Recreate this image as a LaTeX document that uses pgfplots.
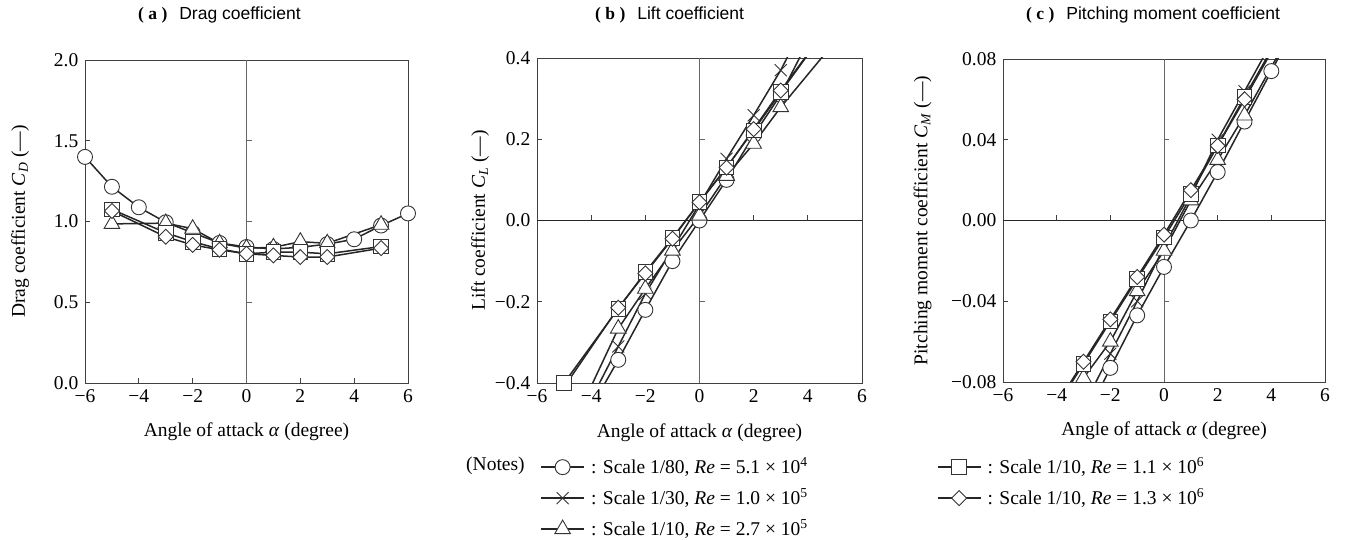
\documentclass[border=0pt]{standalone}
\usepackage{fontspec}
\setmainfont{Liberation Serif}
\newfontfamily\titlesans{Liberation Sans}
\usepackage{pgfplots}
\pgfplotsset{compat=1.18}
\begin{document}
\fontsize{19.5}{23}\selectfont
\begin{tikzpicture}
\useasboundingbox (0pt,0pt) rectangle (1348pt,540pt);
\pgfplotsset{
 panel/.style={
  scale only axis, anchor=south west, width=323pt, height=323pt,
  xmin=-6, xmax=6, xtick={-6,-4,-2,0,2,4,6}, xticklabels={−6,−4,−2,0,2,4,6},
  scaled y ticks=false, scaled x ticks=false,
  tick align=inside, xtick pos=bottom, ytick pos=left,
  major tick length=5pt,
  axis line style={black!75, line width=0.8pt},
  tick style={black!75, line width=0.8pt},
  tick label style={font=\fontsize{19.5}{23}\selectfont},
  label style={font=\fontsize{19.5}{23}\selectfont},
  xlabel={Angle of attack \textit{α} (degree)},
  xlabel style={at={(axis description cs:0.5,-0.152)}, anchor=center},
 },
 ser/.style={line width=1.5pt, black!85, mark options={fill=white, draw=black!80, line width=0.9pt, solid}},
 sCirc/.style={ser, mark=*, mark size=7.5pt},
 sCross/.style={ser, mark=x, mark size=8.5pt},
 sTri/.style={ser, mark=triangle*, mark size=9pt},
 sSq/.style={ser, mark=square*, mark size=7.3pt},
 sDia/.style={line width=1.5pt, black!85, mark=square*, mark size=5.3pt, mark options={fill=white, draw=black!80, line width=0.9pt, solid, rotate=45}},
}
% ---------- titles
\node[anchor=west, inner sep=0] at (138pt,525pt) {\fontsize{17.5}{20}\selectfont\textbf{( a )}\hspace{12pt}{\titlesans Drag coefficient}};
\node[anchor=west, inner sep=0] at (595pt,525pt) {\fontsize{17.5}{20}\selectfont\textbf{( b )}\hspace{12pt}{\titlesans Lift coefficient}};
\node[anchor=west, inner sep=0] at (1026pt,525pt) {\fontsize{17.5}{20}\selectfont\textbf{( c )}\hspace{12pt}{\titlesans Pitching moment coefficient}};
% ---------- (a)
\begin{axis}[panel, at={(85pt,157pt)},
  ymin=0, ymax=2, ytick={0,0.5,1,1.5,2}, yticklabels={0.0,0.5,1.0,1.5,2.0},
  ylabel={Drag coefficient \textit{C}\textsubscript{\textit{D}} (—)},
  ylabel style={at={(axis description cs:-0.201,0.5)}, anchor=center}]
\draw[black!60, line width=0.8pt] (axis cs:0,0) -- (axis cs:0,2);
\draw[black!60, line width=0.8pt] (axis cs:0,0.5) -- ++(5pt,0pt);
\draw[black!60, line width=0.8pt] (axis cs:0,1) -- ++(5pt,0pt);
\draw[black!60, line width=0.8pt] (axis cs:0,1.5) -- ++(5pt,0pt);
\addplot[sCirc] coordinates {(-6,1.40)(-5,1.215)(-4,1.088)(-3,0.995)(-2,0.93)(-1,0.867)(0,0.842)(1,0.83)(2,0.84)(3,0.86)(4,0.89)(5,0.975)(6,1.05)};
\addplot[sTri] coordinates {(-5,0.985)(-3,0.99)(-2,0.955)(-1,0.865)(0,0.835)(1,0.84)(2,0.875)(3,0.865)(5,0.98)};
\addplot[sSq] coordinates {(-5,1.075)(-3,0.93)(-2,0.875)(-1,0.83)(0,0.80)(1,0.81)(2,0.81)(3,0.80)(5,0.845)};
\addplot[sDia] coordinates {(-5,1.065)(-3,0.905)(-2,0.855)(-1,0.825)(0,0.80)(1,0.79)(2,0.78)(3,0.78)(5,0.835)};
\end{axis}
% ---------- (b)
\begin{axis}[panel, at={(537pt,157pt)}, width=325pt, height=325pt,
  xtick style={draw=none},
  ymin=-0.4, ymax=0.4, ytick={-0.4,-0.2,0,0.2,0.4}, yticklabels={−0.4,−0.2,0.0,0.2,0.4},
  ylabel={Lift coefficient \textit{C}\textsubscript{\textit{L}} (—)},
  ylabel style={at={(axis description cs:-0.175,0.5)}, anchor=center}]
\draw[black!85, line width=0.8pt] (axis cs:-6,0) -- (axis cs:6,0);
\draw[black!60, line width=0.8pt] (axis cs:0,-0.4) -- (axis cs:0,0.4);
\draw[black!75, line width=0.8pt] (axis cs:-4,0) -- ++(0pt,5pt);
\draw[black!75, line width=0.8pt] (axis cs:-2,0) -- ++(0pt,5pt);
\draw[black!75, line width=0.8pt] (axis cs:2,0) -- ++(0pt,5pt);
\draw[black!75, line width=0.8pt] (axis cs:4,0) -- ++(0pt,5pt);
\draw[black!60, line width=0.8pt] (axis cs:0,-0.2) -- ++(5pt,0pt);
\draw[black!60, line width=0.8pt] (axis cs:0,0.2) -- ++(5pt,0pt);
\addplot[sCirc] coordinates {(-4,-0.46)(-3,-0.343)(-2,-0.22)(-1,-0.10)(0,0.0)(1,0.10)(2,0.21)(3,0.31)(4,0.44)};
\addplot[sCross] coordinates {(-4,-0.44)(-3,-0.31)(-2,-0.18)(-1,-0.07)(0,0.04)(1,0.152)(2,0.259)(3,0.37)(4,0.50)};
\addplot[sTri] coordinates {(-5,-0.55)(-3,-0.266)(-2,-0.168)(-1,-0.074)(0,0.012)(1,0.11)(2,0.189)(3,0.279)(5,0.44)};
\addplot[sSq] coordinates {(-5,-0.40)(-3,-0.217)(-2,-0.127)(-1,-0.043)(0,0.045)(1,0.131)(2,0.222)(3,0.316)(5,0.50)};
\addplot[sDia] coordinates {(-5,-0.41)(-3,-0.215)(-2,-0.13)(-1,-0.045)(0,0.045)(1,0.13)(2,0.225)(3,0.32)(5,0.50)};
\end{axis}
% ---------- (c)
\begin{axis}[panel, at={(1003pt,158pt)}, width=322pt, height=323pt,
  xtick style={draw=none},
  ymin=-0.08, ymax=0.08, ytick={-0.08,-0.04,0,0.04,0.08}, yticklabels={−0.08,−0.04,0.00,0.04,0.08},
  ylabel={Pitching moment coefficient \textit{C}\textsubscript{\textit{M}} (—)},
  ylabel style={at={(axis description cs:-0.25,0.5)}, anchor=center}]
\draw[black!85, line width=0.8pt] (axis cs:-6,0) -- (axis cs:6,0);
\draw[black!60, line width=0.8pt] (axis cs:0,-0.08) -- (axis cs:0,0.08);
\draw[black!75, line width=0.8pt] (axis cs:-4,0) -- ++(0pt,5pt);
\draw[black!75, line width=0.8pt] (axis cs:-2,0) -- ++(0pt,5pt);
\draw[black!75, line width=0.8pt] (axis cs:2,0) -- ++(0pt,5pt);
\draw[black!75, line width=0.8pt] (axis cs:4,0) -- ++(0pt,5pt);
\draw[black!60, line width=0.8pt] (axis cs:0,-0.04) -- ++(5pt,0pt);
\draw[black!60, line width=0.8pt] (axis cs:0,0.04) -- ++(5pt,0pt);
\addplot[sCirc] coordinates {(-3,-0.10)(-2,-0.073)(-1,-0.047)(0,-0.023)(1,0.0)(2,0.024)(3,0.049)(4,0.074)(5,0.099)};
\addplot[sCross] coordinates {(-3,-0.092)(-2,-0.066)(-1,-0.040)(0,-0.013)(1,0.012)(2,0.040)(3,0.064)(4,0.088)};
\addplot[sTri] coordinates {(-5,-0.125)(-3,-0.078)(-2,-0.06)(-1,-0.035)(0,-0.015)(1,0.010)(2,0.030)(3,0.052)(5,0.10)};
\addplot[sSq] coordinates {(-5,-0.113)(-3,-0.071)(-2,-0.050)(-1,-0.029)(0,-0.0083)(1,0.0132)(2,0.0372)(3,0.0612)(5,0.108)};
\addplot[sDia] coordinates {(-5,-0.112)(-3,-0.070)(-2,-0.049)(-1,-0.028)(0,-0.007)(1,0.015)(2,0.037)(3,0.060)(5,0.107)};
\end{axis}
% ---------- legend
\node[anchor=west, inner sep=0] at (466pt,74pt) {(Notes)};
\begin{axis}[at={(0pt,0pt)}, anchor=south west, scale only axis, width=1348pt, height=540pt,
  hide axis, xmin=0, xmax=1, ymin=0, ymax=1,
  legend columns=2, legend cell align=left,
  legend style={at={(0.4006,0.157)}, anchor=north west, draw=none, fill=none, inner sep=0pt,
    font=\fontsize{19.5}{23}\selectfont, row sep=7.5pt,
    /tikz/column 1/.style={column sep=4pt},
    /tikz/column 2/.style={column sep=127pt},
    /tikz/column 3/.style={column sep=4pt}},
  legend image code/.code={\draw[mark repeat=2,mark phase=2,#1,line width=1.8pt] plot coordinates {(0pt,0pt) (21.5pt,0pt) (43pt,0pt)};}]
\addlegendimage{sCirc}
\addlegendentry{: Scale 1/80, \textit{Re} = 5.1 × 10\textsuperscript{4}}
\addlegendimage{sSq}
\addlegendentry{: Scale 1/10, \textit{Re} = 1.1 × 10\textsuperscript{6}}
\addlegendimage{sCross}
\addlegendentry{: Scale 1/30, \textit{Re} = 1.0 × 10\textsuperscript{5}}
\addlegendimage{sDia}
\addlegendentry{: Scale 1/10, \textit{Re} = 1.3 × 10\textsuperscript{6}}
\addlegendimage{sTri}
\addlegendentry{: Scale 1/10, \textit{Re} = 2.7 × 10\textsuperscript{5}}
\end{axis}
\end{tikzpicture}
\end{document}
